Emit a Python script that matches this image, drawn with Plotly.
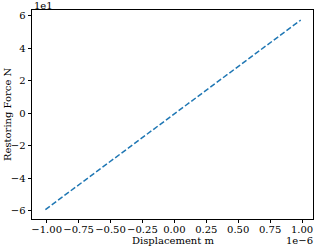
import plotly.graph_objects as go

displacement = [-1.01e-6, 0.99e-6]
force = [-59.4, 57.2]
x_tickvals = [-1e-6, -0.75e-6, -0.5e-6, -0.25e-6, 0, 0.25e-6, 0.5e-6, 0.75e-6, 1e-6]
x_ticktext = ["−1.00", "−0.75", "−0.50", "−0.25", "0.00", "0.25", "0.50", "0.75", "1.00"]
y_tickvals = [-60, -40, -20, 0, 20, 40, 60]
y_ticktext = ["−6", "−4", "−2", "0", "2", "4", "6"]

font = dict(family="DejaVu Serif", size=10, color="#000000")

fig = go.Figure()
fig.add_trace(go.Scatter(x=displacement, y=force, mode="lines",
                         line=dict(color="#1f77b4", width=1.5, dash="5.5px,2.4px")))

axis_common = dict(showgrid=False, zeroline=False, showline=True, mirror=True,
                   linecolor="#000000", linewidth=0.8, ticks="outside", ticklen=3.5,
                   tickwidth=0.8, tickcolor="#000000", tickfont=font, tickangle=0,
                   automargin=False)

fig.update_layout(
    width=314, height=247,
    margin=dict(l=32, r=1, t=10, b=28),
    paper_bgcolor="white", plot_bgcolor="white",
    showlegend=False,
    font=font,
    xaxis=dict(range=[-1.115e-6, 1.086e-6], tickvals=x_tickvals, ticktext=x_ticktext,
               ticklabelstandoff=-2, **axis_common),
    yaxis=dict(range=[-65.2, 63.4], tickvals=y_tickvals, ticktext=y_ticktext,
               **axis_common),
    annotations=[
        dict(text="1e1", xref="paper", yref="paper", x=0, y=1, xanchor="left",
             yanchor="bottom", showarrow=False, font=font, yshift=-3),
        dict(text="1e−6", xref="paper", yref="paper", x=1, y=0, xanchor="right",
             yanchor="top", showarrow=False, font=font, yshift=-14, xshift=2),
        dict(text="Displacement m", xref="paper", yref="paper", x=0.5, y=0,
             xanchor="center", yanchor="top", showarrow=False, font=font, yshift=-14),
        dict(text="Restoring Force N", xref="paper", yref="paper", x=0, y=0.5,
             xanchor="right", yanchor="middle", showarrow=False, font=font,
             textangle=-90, xshift=-17),
    ],
)

fig.write_html("out.html", config={"displayModeBar": False},
               post_script="document.body.style.margin='0';document.body.style.overflow='hidden';")
